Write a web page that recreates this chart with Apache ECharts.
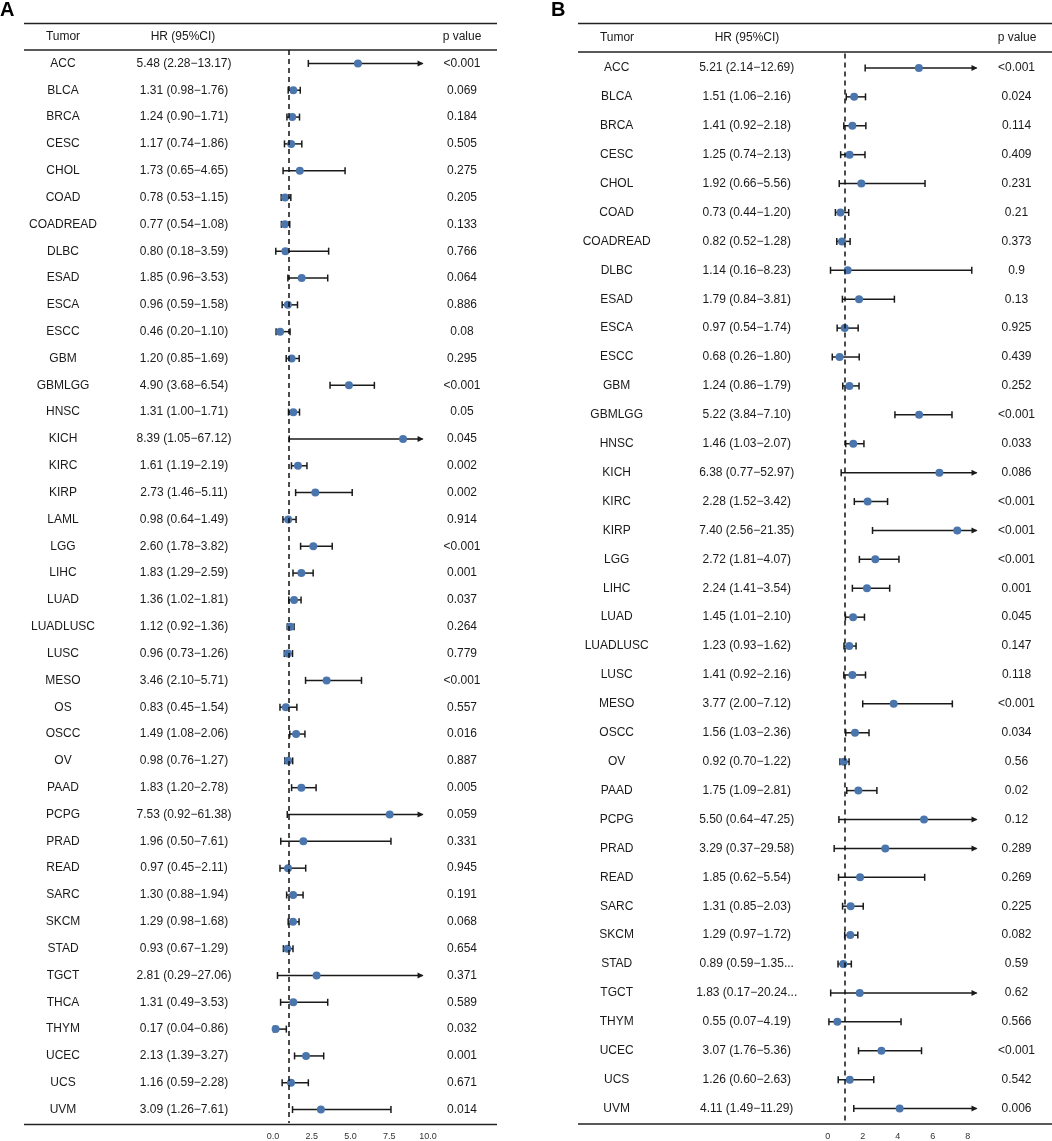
<!DOCTYPE html>
<html>
<head>
<meta charset="utf-8">
<script src="https://cdn.jsdelivr.net/npm/echarts@6/dist/echarts.min.js"></script>
<style>
  html, body { margin: 0; padding: 0; background: #fff; }
  #main { width: 1052px; height: 1141px; }
</style>
</head>
<body>
<div id="main"></div>
<script>
// Panel A data
var tumorsA = ["ACC", "BLCA", "BRCA", "CESC", "CHOL", "COAD", "COADREAD", "DLBC", "ESAD", "ESCA",
  "ESCC", "GBM", "GBMLGG", "HNSC", "KICH", "KIRC", "KIRP", "LAML", "LGG", "LIHC",
  "LUAD", "LUADLUSC", "LUSC", "MESO", "OS", "OSCC", "OV", "PAAD", "PCPG", "PRAD",
  "READ", "SARC", "SKCM", "STAD", "TGCT", "THCA", "THYM", "UCEC", "UCS", "UVM"];
var hrA = [5.48, 1.31, 1.24, 1.17, 1.73, 0.78, 0.77, 0.80, 1.85, 0.96,
  0.46, 1.20, 4.90, 1.31, 8.39, 1.61, 2.73, 0.98, 2.60, 1.83,
  1.36, 1.12, 0.96, 3.46, 0.83, 1.49, 0.98, 1.83, 7.53, 1.96,
  0.97, 1.30, 1.29, 0.93, 2.81, 1.31, 0.17, 2.13, 1.16, 3.09];
var lowA = [2.28, 0.98, 0.90, 0.74, 0.65, 0.53, 0.54, 0.18, 0.96, 0.59,
  0.20, 0.85, 3.68, 1.00, 1.05, 1.19, 1.46, 0.64, 1.78, 1.29,
  1.02, 0.92, 0.73, 2.10, 0.45, 1.08, 0.76, 1.20, 0.92, 0.50,
  0.45, 0.88, 0.98, 0.67, 0.29, 0.49, 0.04, 1.39, 0.59, 1.26];
var upA = [13.17, 1.76, 1.71, 1.86, 4.65, 1.15, 1.08, 3.59, 3.53, 1.58,
  1.10, 1.69, 6.54, 1.71, 67.12, 2.19, 5.11, 1.49, 3.82, 2.59,
  1.81, 1.36, 1.26, 5.71, 1.54, 2.06, 1.27, 2.78, 61.38, 7.61,
  2.11, 1.94, 1.68, 1.29, 27.06, 3.53, 0.86, 3.27, 2.28, 7.61];
var hrTextA = ["5.48 (2.28−13.17)", "1.31 (0.98−1.76)", "1.24 (0.90−1.71)", "1.17 (0.74−1.86)",
  "1.73 (0.65−4.65)", "0.78 (0.53−1.15)", "0.77 (0.54−1.08)", "0.80 (0.18−3.59)",
  "1.85 (0.96−3.53)", "0.96 (0.59−1.58)", "0.46 (0.20−1.10)", "1.20 (0.85−1.69)",
  "4.90 (3.68−6.54)", "1.31 (1.00−1.71)", "8.39 (1.05−67.12)", "1.61 (1.19−2.19)",
  "2.73 (1.46−5.11)", "0.98 (0.64−1.49)", "2.60 (1.78−3.82)", "1.83 (1.29−2.59)",
  "1.36 (1.02−1.81)", "1.12 (0.92−1.36)", "0.96 (0.73−1.26)", "3.46 (2.10−5.71)",
  "0.83 (0.45−1.54)", "1.49 (1.08−2.06)", "0.98 (0.76−1.27)", "1.83 (1.20−2.78)",
  "7.53 (0.92−61.38)", "1.96 (0.50−7.61)", "0.97 (0.45−2.11)", "1.30 (0.88−1.94)",
  "1.29 (0.98−1.68)", "0.93 (0.67−1.29)", "2.81 (0.29−27.06)", "1.31 (0.49−3.53)",
  "0.17 (0.04−0.86)", "2.13 (1.39−3.27)", "1.16 (0.59−2.28)", "3.09 (1.26−7.61)"];
var pA = ["<0.001", "0.069", "0.184", "0.505", "0.275", "0.205", "0.133", "0.766", "0.064", "0.886",
  "0.08", "0.295", "<0.001", "0.05", "0.045", "0.002", "0.002", "0.914", "<0.001", "0.001",
  "0.037", "0.264", "0.779", "<0.001", "0.557", "0.016", "0.887", "0.005", "0.059", "0.331",
  "0.945", "0.191", "0.068", "0.654", "0.371", "0.589", "0.032", "0.001", "0.671", "0.014"];
var ticksA = [0, 2.5, 5, 7.5, 10];

// Panel B data
var tumorsB = ["ACC", "BLCA", "BRCA", "CESC", "CHOL", "COAD", "COADREAD", "DLBC", "ESAD", "ESCA",
  "ESCC", "GBM", "GBMLGG", "HNSC", "KICH", "KIRC", "KIRP", "LGG", "LIHC", "LUAD",
  "LUADLUSC", "LUSC", "MESO", "OSCC", "OV", "PAAD", "PCPG", "PRAD", "READ", "SARC",
  "SKCM", "STAD", "TGCT", "THYM", "UCEC", "UCS", "UVM"];
var hrB = [5.21, 1.51, 1.41, 1.25, 1.92, 0.73, 0.82, 1.14, 1.79, 0.97,
  0.68, 1.24, 5.22, 1.46, 6.38, 2.28, 7.40, 2.72, 2.24, 1.45,
  1.23, 1.41, 3.77, 1.56, 0.92, 1.75, 5.50, 3.29, 1.85, 1.31,
  1.29, 0.89, 1.83, 0.55, 3.07, 1.26, 4.11];
var lowB = [2.14, 1.06, 0.92, 0.74, 0.66, 0.44, 0.52, 0.16, 0.84, 0.54,
  0.26, 0.86, 3.84, 1.03, 0.77, 1.52, 2.56, 1.81, 1.41, 1.01,
  0.93, 0.92, 2.00, 1.03, 0.70, 1.09, 0.64, 0.37, 0.62, 0.85,
  0.97, 0.59, 0.17, 0.07, 1.76, 0.60, 1.49];
var upB = [12.69, 2.16, 2.18, 2.13, 5.56, 1.20, 1.28, 8.23, 3.81, 1.74,
  1.80, 1.79, 7.10, 2.07, 52.97, 3.42, 21.35, 4.07, 3.54, 2.10,
  1.62, 2.16, 7.12, 2.36, 1.22, 2.81, 47.25, 29.58, 5.54, 2.03,
  1.72, 1.35, 20.24, 4.19, 5.36, 2.63, 11.29];
var hrTextB = ["5.21 (2.14−12.69)", "1.51 (1.06−2.16)", "1.41 (0.92−2.18)", "1.25 (0.74−2.13)",
  "1.92 (0.66−5.56)", "0.73 (0.44−1.20)", "0.82 (0.52−1.28)", "1.14 (0.16−8.23)",
  "1.79 (0.84−3.81)", "0.97 (0.54−1.74)", "0.68 (0.26−1.80)", "1.24 (0.86−1.79)",
  "5.22 (3.84−7.10)", "1.46 (1.03−2.07)", "6.38 (0.77−52.97)", "2.28 (1.52−3.42)",
  "7.40 (2.56−21.35)", "2.72 (1.81−4.07)", "2.24 (1.41−3.54)", "1.45 (1.01−2.10)",
  "1.23 (0.93−1.62)", "1.41 (0.92−2.16)", "3.77 (2.00−7.12)", "1.56 (1.03−2.36)",
  "0.92 (0.70−1.22)", "1.75 (1.09−2.81)", "5.50 (0.64−47.25)", "3.29 (0.37−29.58)",
  "1.85 (0.62−5.54)", "1.31 (0.85−2.03)", "1.29 (0.97−1.72)", "0.89 (0.59−1.35...",
  "1.83 (0.17−20.24...", "0.55 (0.07−4.19)", "3.07 (1.76−5.36)", "1.26 (0.60−2.63)",
  "4.11 (1.49−11.29)"];
var pB = ["<0.001", "0.024", "0.114", "0.409", "0.231", "0.21", "0.373", "0.9", "0.13", "0.925",
  "0.439", "0.252", "<0.001", "0.033", "0.086", "<0.001", "<0.001", "<0.001", "0.001", "0.045",
  "0.147", "0.118", "<0.001", "0.034", "0.56", "0.02", "0.12", "0.289", "0.269", "0.225",
  "0.082", "0.59", "0.62", "0.566", "<0.001", "0.542", "0.006"];
var ticksB = [0, 2, 4, 6, 8];

var FONT = "Liberation Sans, Arial, sans-serif";
var INK = "#1a1a1a";
var DOT = "#4A76AD";
var clipA = 9.65;   // CI beyond this gets an arrow
var clipB = 8.5;

var chart = echarts.init(document.getElementById("main"), null, { renderer: "canvas" });

function ciRenderer(clip) {
  return function (params, api) {
    var row = api.value(2);
    var lo = api.value(0);
    var up = api.value(1);
    var a = api.coord([lo, row]);
    var b = api.coord([Math.min(up, clip), row]);
    var st = { stroke: INK, lineWidth: 1.5 };
    var kids = [
      { type: "line", shape: { x1: a[0], y1: a[1], x2: b[0], y2: b[1] }, style: st },
      { type: "line", shape: { x1: a[0], y1: a[1] - 3.5, x2: a[0], y2: a[1] + 3.5 }, style: st }
    ];
    if (up > clip) {
      kids.push({
        type: "polygon",
        shape: { points: [[b[0] + 1, b[1]], [b[0] - 5, b[1] - 3], [b[0] - 5, b[1] + 3]] },
        style: { fill: INK }
      });
    } else {
      kids.push({ type: "line", shape: { x1: b[0], y1: b[1] - 3.5, x2: b[0], y2: b[1] + 3.5 }, style: st });
    }
    return { type: "group", children: kids };
  };
}

function textAxis(gridIndex, data, position, margin) {
  return {
    type: "category",
    gridIndex: gridIndex,
    data: data,
    inverse: true,
    position: position,
    axisLine: { show: false },
    axisTick: { show: false },
    splitLine: { show: false },
    axisLabel: {
      interval: 0,
      margin: margin,
      align: "center",
      color: INK,
      fontSize: 12,
      fontFamily: FONT
    }
  };
}

function valueAxis(gridIndex, max, interval, ticks, fmt) {
  return {
    type: "value",
    gridIndex: gridIndex,
    min: 0,
    max: max,
    interval: interval,
    axisLine: { show: false },
    axisTick: { show: false },
    splitLine: { show: false },
    axisLabel: {
      margin: 9,
      color: "#333",
      fontSize: 9,
      fontFamily: FONT,
      showMaxLabel: true,
      formatter: function (v) {
        return ticks.indexOf(v) >= 0 ? fmt(v) : "";
      }
    }
  };
}

function hline(x1, x2, y) {
  return {
    type: "line",
    shape: { x1: x1, y1: y, x2: x2, y2: y },
    style: { stroke: "#222", lineWidth: 1.5 }
  };
}

function header(x, y, text) {
  return {
    type: "text",
    x: x,
    y: y,
    style: {
      text: text,
      fill: INK,
      font: "12px " + FONT,
      textAlign: "center",
      textVerticalAlign: "middle"
    }
  };
}

var dashed = {
  silent: true,
  symbol: "none",
  label: { show: false },
  lineStyle: { color: "#111", width: 1.5, type: [5, 4] },
  data: [{ xAxis: 1 }]
};

var option = {
  animation: false,
  backgroundColor: "#fff",
  grid: [
    { left: 273, width: 155, top: 50, bottom: 17.5 },
    { left: 827.7, width: 148.8, top: 53.5, bottom: 16.5 }
  ],
  xAxis: [
    valueAxis(0, 10, 2.5, ticksA, function (v) { return v.toFixed(1); }),
    valueAxis(1, 8.5, 2, ticksB, function (v) { return String(v); })
  ],
  yAxis: [
    textAxis(0, tumorsA, "left", 210),
    textAxis(0, hrTextA, "left", 89),
    textAxis(0, pA, "right", 34),
    textAxis(1, tumorsB, "left", 211),
    textAxis(1, hrTextB, "left", 81),
    textAxis(1, pB, "right", 40)
  ],
  series: [
    {
      type: "custom",
      xAxisIndex: 0,
      yAxisIndex: 0,
      renderItem: ciRenderer(clipA),
      encode: { x: [0, 1], y: 2 },
      data: tumorsA.map(function (t, i) { return [lowA[i], upA[i], t]; }),
      z: 2
    },
    {
      type: "scatter",
      xAxisIndex: 0,
      yAxisIndex: 0,
      symbolSize: 8,
      itemStyle: { color: DOT, opacity: 1 },
      data: tumorsA.map(function (t, i) { return [hrA[i], t]; }),
      markLine: dashed,
      z: 3
    },
    {
      type: "custom",
      xAxisIndex: 1,
      yAxisIndex: 3,
      renderItem: ciRenderer(clipB),
      encode: { x: [0, 1], y: 2 },
      data: tumorsB.map(function (t, i) { return [lowB[i], upB[i], t]; }),
      z: 2
    },
    {
      type: "scatter",
      xAxisIndex: 1,
      yAxisIndex: 3,
      symbolSize: 8,
      itemStyle: { color: DOT, opacity: 1 },
      data: tumorsB.map(function (t, i) { return [hrB[i], t]; }),
      markLine: dashed,
      z: 3
    }
  ],
  graphic: [
    { type: "text", x: 0, y: 0, style: { text: "A", fill: "#000", font: "bold 20px " + FONT } },
    { type: "text", x: 551, y: 0, style: { text: "B", fill: "#000", font: "bold 20px " + FONT } },
    hline(24, 497, 23.5),
    hline(24, 497, 50),
    hline(24, 497, 1124.5),
    hline(578, 1052, 23.5),
    hline(578, 1052, 52),
    hline(578, 1052, 1124),
    header(63, 37, "Tumor"),
    header(183, 37, "HR (95%CI)"),
    header(462, 37, "p value"),
    header(617, 38, "Tumor"),
    header(747, 38, "HR (95%CI)"),
    header(1017, 38, "p value")
  ]
};

chart.setOption(option);
</script>
</body>
</html>
